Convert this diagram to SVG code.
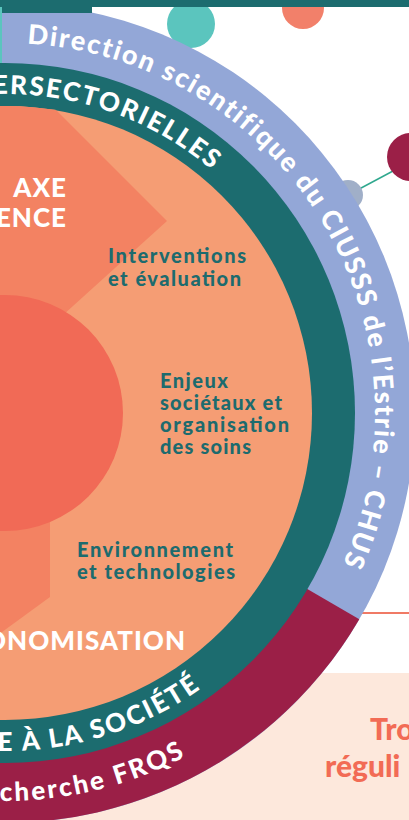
<svg xmlns="http://www.w3.org/2000/svg" width="409" height="820" viewBox="0 0 409 820">
<style>
.curv{font-family:Lato,"Open Sans",sans-serif;font-weight:900;fill:#ffffff;}
.ax{font-family:Lato,"Open Sans",sans-serif;font-weight:900;fill:#ffffff;font-size:26px;letter-spacing:1px;}
.th{font-family:Lato,"Open Sans",sans-serif;font-weight:900;fill:#1d6b6e;font-size:20px;}
.tr{font-family:Lato,"Open Sans",sans-serif;font-weight:900;fill:#f26b55;font-size:30px;}
</style>
<defs>
<clipPath id="cSal"><circle cx="5" cy="413" r="307"/></clipPath>
<path id="pL" d="M 5 43 A 370 370 0 0 1 375 413 A 370 370 0 0 1 5 783"/>
<path id="pT" d="M -314 413 A 319 319 0 0 1 5 94 A 319 319 0 0 1 324 413"/>
<path id="pB" d="M -333 413 A 338 338 0 0 0 5 751 A 338 338 0 0 0 343 413"/>
<path id="pM" d="M -383 413 A 388 388 0 0 0 5 801 A 388 388 0 0 0 393 413"/>
</defs>
<rect x="0" y="0" width="409" height="820" fill="#ffffff"/>
<rect id="peach" x="0" y="673" width="409" height="147" fill="#fde8dc"/>
<g id="connectors" fill="none">
<line x1="190" y1="40" x2="190" y2="70" stroke="#2fa88e" stroke-width="1.5"/>
<line x1="348" y1="195" x2="393" y2="171" stroke="#2fa88e" stroke-width="1.5"/>
<line x1="330" y1="613" x2="409" y2="613" stroke="#f07a65" stroke-width="2"/>
<line x1="299" y1="17" x2="304" y2="0" stroke="#d96a55" stroke-width="1"/>
</g>
<g id="dots">
<circle cx="191" cy="24" r="24" fill="#5bc5be"/>
<circle cx="303" cy="8" r="21" fill="#f2806a"/>
<circle cx="348" cy="195" r="15" fill="#a0afc8"/>
<circle cx="411" cy="157" r="24" fill="#9b1f47"/>
</g>
<g id="outer-ring">
<circle cx="5" cy="413" r="410" fill="#93a7d7"/>
<path d="M 5 413 L 359.3 619.2 A 410 410 0 0 1 -405 413 Z" fill="#9b1f47"/>
<text class="curv" font-size="27" letter-spacing="1.85"><textPath href="#pL" startOffset="22">Direction scientifique du CIUSSS de l’Estrie – CHUS</textPath></text>
<text class="curv" font-size="26" letter-spacing="2.5" text-anchor="end"><textPath href="#pM" startOffset="799">cherche FRQS</textPath></text>
</g>
<g id="teal-ring">
<circle cx="5" cy="413" r="350" fill="#1c6c6f"/>
<text class="curv" font-size="26" letter-spacing="2" text-anchor="end"><textPath href="#pT" startOffset="727">ERSECTORIELLES</textPath></text>
<text class="curv" font-size="26" letter-spacing="2.2" text-anchor="end"><textPath href="#pB" startOffset="741">E À LA SOCIÉTÉ</textPath></text>
</g>
<g id="axes">
<circle cx="5" cy="413" r="307" fill="#f59d74"/>
<g clip-path="url(#cSal)" fill="#f38262">
<polygon points="167,221 -20,34 -20,390"/>
<polygon points="50,470 50,597 -20,648 -20,470"/>
</g>
<circle cx="5" cy="413" r="118" fill="#f16a56"/>
<text class="ax" x="67" y="197" text-anchor="end">AXE</text>
<text class="ax" x="67" y="227" text-anchor="end">ENCE</text>
<text class="ax" x="186" y="650" text-anchor="end">ONOMISATION</text>
</g>
<g id="theme-interventions">
<text class="th" x="108" y="263" textLength="138" lengthAdjust="spacing">Interventions</text>
<text class="th" x="108" y="286" textLength="133" lengthAdjust="spacing">et évaluation</text>
</g>
<g id="theme-enjeux">
<text class="th" x="160" y="388" textLength="68" lengthAdjust="spacing">Enjeux</text>
<text class="th" x="160" y="410" textLength="122" lengthAdjust="spacing">sociétaux et</text>
<text class="th" x="160" y="432" textLength="129" lengthAdjust="spacing">organisation</text>
<text class="th" x="160" y="454" textLength="91" lengthAdjust="spacing">des soins</text>
</g>
<g id="theme-environnement">
<text class="th" x="77" y="557" textLength="156" lengthAdjust="spacing">Environnement</text>
<text class="th" x="77" y="579" textLength="158" lengthAdjust="spacing">et technologies</text>
</g>
<g id="header">
<rect x="0" y="0" width="409" height="7" fill="#1c6c6f"/>
<rect x="0" y="0" width="92" height="13" fill="#1c6c6f"/>
<rect x="0" y="7" width="2" height="56" fill="#5bc5be"/>
</g>
<g id="side-box">
<text class="tr" x="370" y="740">Tro</text>
<text class="tr" x="325" y="777">réguli</text>
</g>
</svg>
